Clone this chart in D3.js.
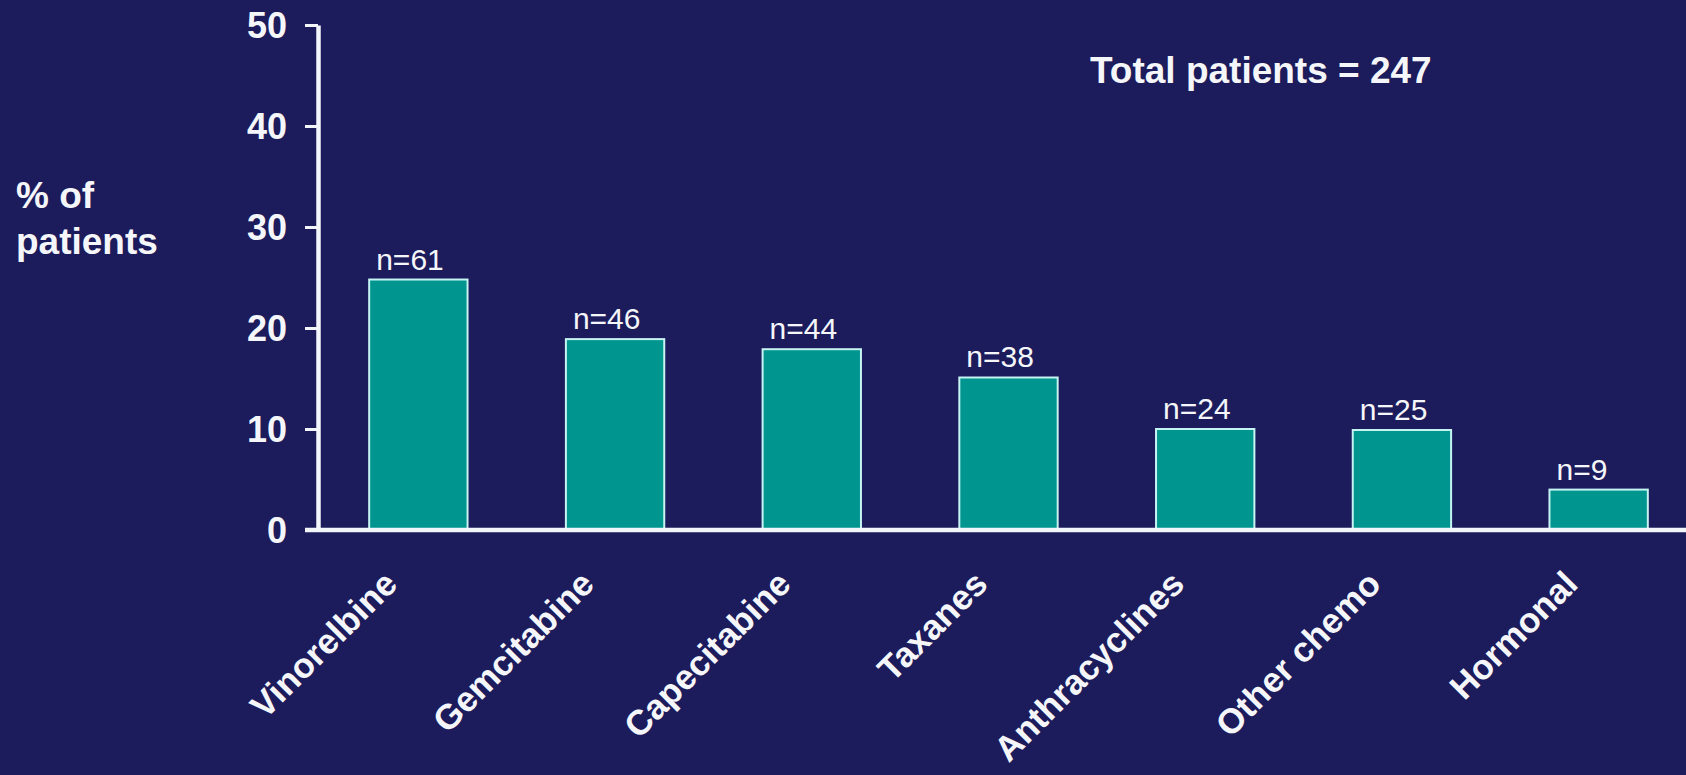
<!DOCTYPE html>
<html>
<head>
<meta charset="utf-8">
<script src="https://cdn.jsdelivr.net/npm/d3@7"></script>
<style>
  html, body { margin: 0; padding: 0; background: #1c1b5b; }
  svg { display: block; }
  text { font-family: "Liberation Sans", Arial, Helvetica, sans-serif; fill: #f4f6fa; }
</style>
</head>
<body>
<svg id="chart" width="1686" height="775"></svg>
<script>
// Treatment categories, share of patients (%) and patient counts per category
const categories = ["Vinorelbine", "Gemcitabine", "Capecitabine", "Taxanes", "Anthracyclines", "Other chemo", "Hormonal"];
const percentPatients = [24.8, 18.9, 17.9, 15.1, 10.0, 9.9, 4.0];
const patientCounts = [61, 46, 44, 38, 24, 25, 9];
const yTicks = [0, 10, 20, 30, 40, 50];
const totalPatients = 247;

const W = 1686, H = 775;
const axisX = 318;
const svg = d3.select("#chart");

svg.append("rect").attr("width", W).attr("height", H).attr("fill", "#1c1b5b");

const x = d3.scaleBand()
  .domain(categories)
  .range([320, 1697])
  .paddingInner(0.5)
  .paddingOuter(0.25);

const y = d3.scaleLinear()
  .domain([0, 50])
  .range([530, 25]);

const axisColor = "#f2f5f9";
const tickLen = 13;

// Bars
svg.append("g")
  .selectAll("rect")
  .data(categories)
  .join("rect")
  .attr("x", d => x(d))
  .attr("y", (d, i) => y(percentPatients[i]))
  .attr("width", x.bandwidth())
  .attr("height", (d, i) => y(0) - y(percentPatients[i]))
  .attr("fill", "#00968f")
  .attr("stroke", "#c6f4f2")
  .attr("stroke-width", 2);

// Count labels above the bars
svg.append("g")
  .selectAll("text")
  .data(categories)
  .join("text")
  .attr("x", d => x(d) + 7)
  .attr("y", (d, i) => y(percentPatients[i]) - 10)
  .attr("text-anchor", "start")
  .style("font-size", "30px")
  .text((d, i) => "n=" + patientCounts[i]);

// Y axis
const yAxis = svg.append("g")
  .attr("transform", `translate(${axisX},0)`)
  .call(d3.axisLeft(y).tickValues(yTicks).tickSize(tickLen).tickSizeOuter(0).tickPadding(18));
yAxis.select(".domain").attr("stroke", axisColor).attr("stroke-width", 4.5);
yAxis.selectAll(".tick line").attr("stroke", axisColor).attr("stroke-width", 3);
yAxis.selectAll(".tick text")
  .attr("fill", axisColor)
  .style("font-size", "36px")
  .style("font-weight", "bold")
  .attr("dy", "0.36em");

// Baseline
svg.append("line")
  .attr("x1", axisX - tickLen).attr("x2", W)
  .attr("y1", y(0)).attr("y2", y(0))
  .attr("stroke", axisColor)
  .attr("stroke-width", 4.5);

// X axis category labels
const xAxis = svg.append("g")
  .attr("transform", `translate(0,${y(0)})`)
  .call(d3.axisBottom(x).tickSize(0).tickPadding(0));
xAxis.select(".domain").remove();
xAxis.selectAll(".tick text")
  .attr("y", 0)
  .attr("dy", 0)
  .attr("text-anchor", "end")
  .attr("transform", "translate(-19,56) rotate(-45)")
  .attr("fill", axisColor)
  .style("font-size", "35px")
  .style("font-weight", "bold");

// Y axis title
const yTitle = svg.append("text")
  .attr("x", 16)
  .attr("y", 208)
  .style("font-size", "37px")
  .style("font-weight", "bold");
yTitle.append("tspan").attr("x", 16).text("% of");
yTitle.append("tspan").attr("x", 16).attr("dy", 46).text("patients");

// Total annotation
svg.append("text")
  .attr("x", 1090)
  .attr("y", 83)
  .style("font-size", "37px")
  .style("font-weight", "bold")
  .text("Total patients = " + totalPatients);
</script>
</body>
</html>
